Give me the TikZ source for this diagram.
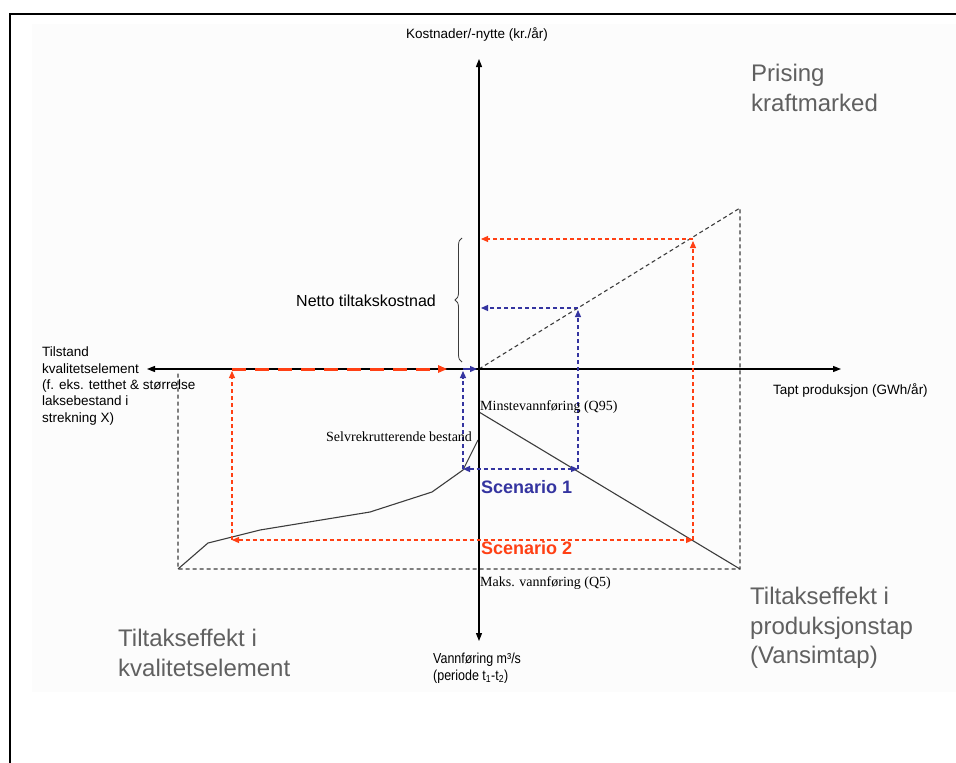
\documentclass[tikz,border=0pt]{standalone}
\usepackage{fontspec}
\setmainfont{Liberation Sans}
\newfontfamily\timesf{Liberation Serif}
\usetikzlibrary{arrows.meta,decorations.pathreplacing}
\definecolor{redc}{RGB}{255,64,20}
\definecolor{bluec}{RGB}{52,52,160}
\definecolor{txtgray}{RGB}{96,96,96}
\definecolor{bggray}{RGB}{252,252,252}
\definecolor{linegray}{RGB}{60,60,60}
\tikzset{
  axisline/.style={black, line width=1.2pt, -{Triangle[length=8pt,width=6pt]}},
  arr/.style={-{Triangle[length=7pt,width=6pt]}},
  dblarr/.style={{Triangle[length=7pt,width=6pt]}-{Triangle[length=7pt,width=6pt]}},
  blkdash/.style={linegray, line width=1.1pt, dash pattern=on 4pt off 3pt},
  reddash/.style={redc, line width=1.1pt, dash pattern=on 4pt off 3pt},
  redthick/.style={draw=redc, line width=3pt, dash pattern=on 14pt off 9pt},
  bluedash/.style={bluec, line width=1.2pt, dash pattern=on 4pt off 3pt},
  curveline/.style={linegray, line width=1.1pt, line join=round},
  lbl/.style={inner sep=0pt, anchor=west, align=left},
  smallsans/.style={lbl, font=\fontsize{13.5}{16.3}\selectfont},
  serifsmall/.style={lbl, font=\timesf\fontsize{14}{16}\selectfont},
  biggray/.style={lbl, text=txtgray, font=\fontsize{24}{29.5}\selectfont},
  scen/.style={lbl, font=\bfseries\fontsize{18}{20}\selectfont}
}
\begin{document}
\begin{tikzpicture}[x=1pt,y=-1pt]
\useasboundingbox (0,0) rectangle (956,763);
\fill[bggray] (32,24) rectangle (956,692);
\draw[line width=2pt] (10,763) -- (10,14) -- (956,14);

% key points
\coordinate (O) at (479,369);
\coordinate (yT) at (479,59);
\coordinate (yB) at (479,641);
\coordinate (xL) at (147,369);
\coordinate (xR) at (841,369);
\coordinate (D) at (740,208);
\coordinate (BR) at (740,569);
\coordinate (BL) at (178,569);
\coordinate (LT) at (178,371);
\coordinate (c1) at (208,543);
\coordinate (c2) at (260,530);
\coordinate (c3) at (370,512);
\coordinate (c4) at (432,492);
\coordinate (c5) at (463,470);
\coordinate (c6) at (478,440);
\coordinate (m0) at (479,412);
% red scenario 2
\coordinate (r2L) at (232,540);
\coordinate (r2R) at (693,540);
\coordinate (r2T) at (693,241);
\coordinate (r2H) at (693,239);
\coordinate (r2Y) at (481,239);
\coordinate (rLtop) at (232,371);
\coordinate (rA) at (232,369);
\coordinate (rB) at (447,369);
% blue scenario 1
\coordinate (b1L) at (463,469);
\coordinate (b1R) at (578,469);
\coordinate (b1T) at (578,310);
\coordinate (b1H) at (578,308);
\coordinate (b1Y) at (481,308);
\coordinate (bLtop) at (463,371);
\coordinate (bA) at (463,369);
\coordinate (bB) at (477,369);
\coordinate (brB) at (462,362);
\coordinate (brT) at (462,238);

% dashed black frame
\draw[blkdash] (O) -- (D) -- (BR) -- (BL) -- (LT);

% curves
\draw[curveline] (BL) -- (c1) -- (c2) -- (c3) -- (c4) -- (c5) -- (c6);
\draw[curveline] (m0) -- (BR);

% axes
\draw[axisline] (O) -- (yT);
\draw[axisline] (O) -- (yB);
\draw[axisline] (O) -- (xL);
\draw[axisline] (O) -- (xR);

% red
\draw[reddash, arr] (r2R) -- (r2T);
\draw[reddash, arr] (r2H) -- (r2Y);
\draw[reddash, dblarr] (r2L) -- (r2R);
\draw[reddash, arr] (r2L) -- (rLtop);
\draw[redthick] (rA) -- ([xshift=-8pt]rB);
\fill[redc] (rB) -- ++(-9,-4) -- ++(0,8) -- cycle;

% blue
\draw[bluedash, arr] (b1R) -- (b1T);
\draw[bluedash, arr] (b1H) -- (b1Y);
\draw[bluedash, dblarr] (b1L) -- (b1R);
\draw[bluedash, arr] (b1L) -- (bLtop);
\draw[bluec, line width=1.3pt, arr] (bA) -- (bB);

% brace
\draw[linegray, line width=0.8pt, decorate, decoration={brace, amplitude=7pt}] (brB) -- (brT);

% labels
\node[smallsans, anchor=center] (ylab) at (477,34) {Kostnader/-nytte (kr./år)};
\node[smallsans] (xlab) at (773,390) {Tapt produksjon (GWh/år)};
\node[smallsans] (llab) at (42,386) {Tilstand\\kvalitetselement\\(f. eks. tetthet \& størrelse\\laksebestand i\\strekning X)};
\node[smallsans, font=\fontsize{14.5}{17}\selectfont] (blab) at (433,668) {\scalebox{0.86}[1]{Vannføring m³/s}\\\scalebox{0.86}[1]{(periode t\textsubscript{1}-t\textsubscript{2})}};
\node[lbl, font=\fontsize{16}{18}\selectfont] (netto) at (296,301) {Netto tiltakskostnad};
\node[biggray] (pris) at (751,88) {Prising\\kraftmarked};
\node[biggray] (tprod) at (750,628) {Tiltakseffekt i\\produksjonstap\\(Vansimtap)};
\node[biggray] (tkval) at (118,653) {Tiltakseffekt i\\kvalitetselement};
\node[serifsmall] (minst) at (480,407) {Minstevannføring (Q95)};
\node[serifsmall] (selv) at (326,437) {Selvrekrutterende bestand};
\node[serifsmall] (maks) at (480,583) {Maks. vannføring (Q5)};
\node[scen, text=bluec] (s1) at (481,487) {Scenario 1};
\node[scen, text=redc] (s2) at (481,548) {Scenario 2};
\end{tikzpicture}
\end{document}
